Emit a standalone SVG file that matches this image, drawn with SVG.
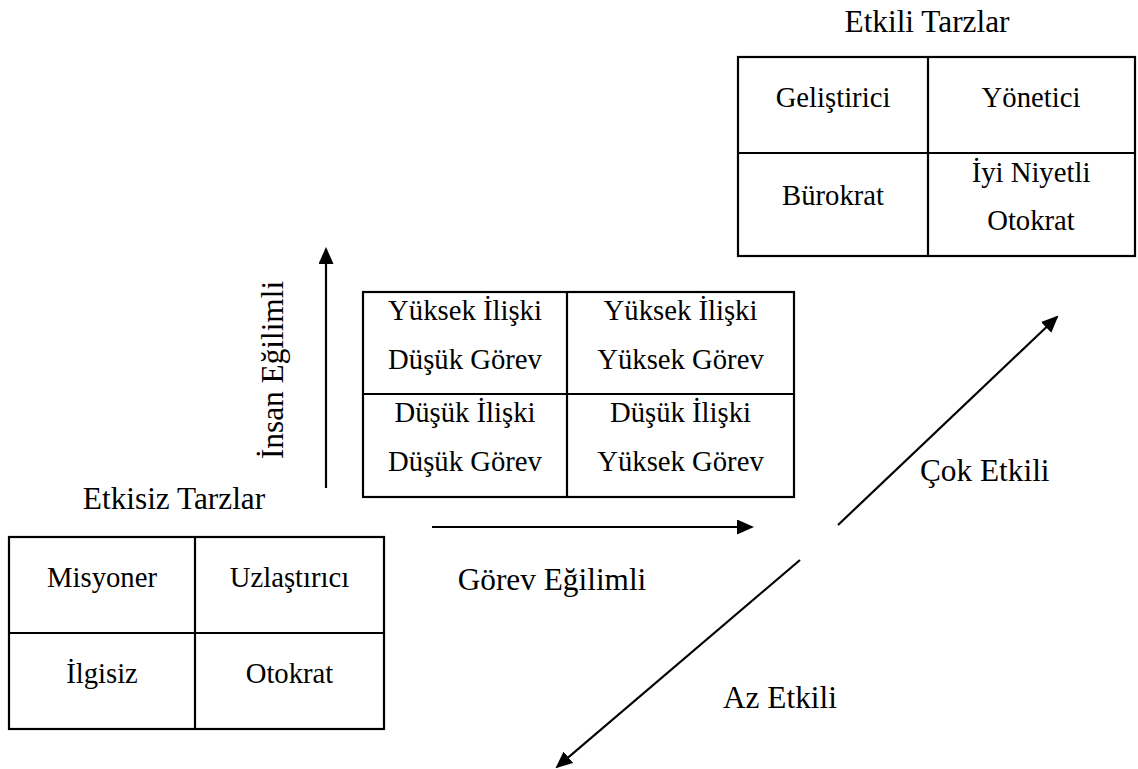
<svg xmlns="http://www.w3.org/2000/svg" width="1138" height="769" viewBox="0 0 1138 769">
<style>
.box{fill:none;stroke:#000;stroke-width:2.2}
.ln{stroke:#000;stroke-width:2.2;fill:none}
.cell{font-family:"Liberation Serif","Times New Roman",serif;font-size:28.7px;fill:#000;text-anchor:middle}
.ttl{font-family:"Liberation Serif","Times New Roman",serif;font-size:31.3px;fill:#000}
.mid{text-anchor:middle}
.arr{stroke:#000;stroke-width:2.2;fill:none;marker-end:url(#ah)}
</style>
<defs>
<marker id="ah" markerUnits="userSpaceOnUse" viewBox="0 0 17 15" refX="15" refY="7.5" markerWidth="17" markerHeight="15" orient="auto">
<path d="M0,0 L17,7.5 L0,15 z" fill="#000"/>
</marker>
</defs>
<rect width="1138" height="769" fill="#fff"/>

<g id="effective">
<text class="ttl mid" x="927" y="32">Etkili Tarzlar</text>
<rect class="box" x="738" y="57" width="397" height="199"/>
<line class="ln" x1="928" y1="57" x2="928" y2="256"/>
<line class="ln" x1="738" y1="153" x2="1135" y2="153"/>
<text class="cell" x="833" y="107">Geliştirici</text>
<text class="cell" x="1031" y="107">Yönetici</text>
<text class="cell" x="833" y="205">Bürokrat</text>
<text class="cell" x="1031" y="182">İyi Niyetli</text>
<text class="cell" x="1031" y="230">Otokrat</text>
</g>

<g id="grid">
<rect class="box" x="363" y="292" width="431" height="205"/>
<line class="ln" x1="567" y1="292" x2="567" y2="497"/>
<line class="ln" x1="363" y1="394" x2="794" y2="394"/>
<text class="cell" x="465" y="320">Yüksek İlişki</text>
<text class="cell" x="465" y="369">Düşük Görev</text>
<text class="cell" x="680.5" y="320">Yüksek İlişki</text>
<text class="cell" x="680.5" y="369">Yüksek Görev</text>
<text class="cell" x="465" y="422">Düşük İlişki</text>
<text class="cell" x="465" y="471">Düşük Görev</text>
<text class="cell" x="680.5" y="422">Düşük İlişki</text>
<text class="cell" x="680.5" y="471">Yüksek Görev</text>
</g>

<g id="ineffective">
<text class="ttl mid" x="174" y="509">Etkisiz Tarzlar</text>
<rect class="box" x="9" y="537" width="375" height="192"/>
<line class="ln" x1="195" y1="537" x2="195" y2="729"/>
<line class="ln" x1="9" y1="633" x2="384" y2="633"/>
<text class="cell" x="102" y="587">Misyoner</text>
<text class="cell" x="289.5" y="587">Uzlaştırıcı</text>
<text class="cell" x="102" y="683">İlgisiz</text>
<text class="cell" x="289.5" y="683">Otokrat</text>
</g>

<g id="labels">
<text class="ttl mid" transform="translate(283,370) rotate(-90)">İnsan Eğilimli</text>
<text class="ttl mid" x="552" y="590">Görev Eğilimli</text>
<text class="ttl" x="920" y="481">Çok Etkili</text>
<text class="ttl" x="723" y="708">Az Etkili</text>
</g>

<g id="connectors">
<line class="arr" x1="326" y1="488" x2="326" y2="249"/>
<line class="arr" x1="432" y1="527" x2="752" y2="527"/>
<line class="arr" x1="838" y1="525" x2="1057" y2="317"/>
<line class="arr" x1="800" y1="560" x2="557" y2="767"/>
</g>
</svg>
